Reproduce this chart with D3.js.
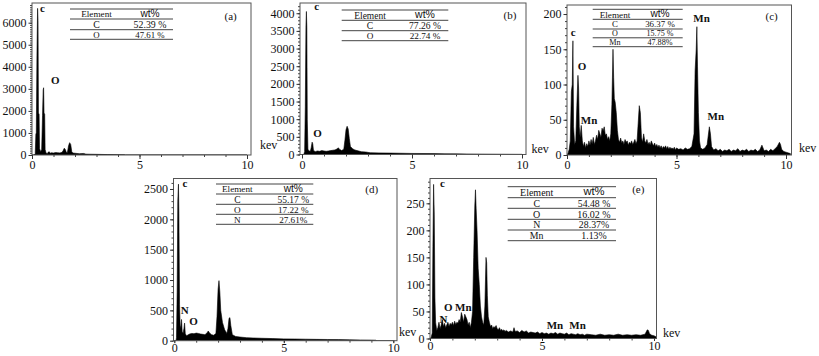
<!DOCTYPE html>
<html><head><meta charset="utf-8">
<script src="https://cdn.jsdelivr.net/npm/d3@7"></script>
<style>
body{margin:0;background:#fff}
svg text{font-family:"Liberation Serif","Times New Roman",Times,serif;fill:#111}
svg text.sans{font-family:"Liberation Sans",Arial,sans-serif}
</style>
</head><body>
<svg id="chart" width="819" height="356"></svg>
<script>
// ---- DATA: [energy keV, counts] ----
const specA = [[0,0],[0.1,0],[0.15,60],[0.18,950],[0.2,1000],[0.23,4500],[0.26,6650],[0.28,6100],[0.3,1900],[0.33,1850],[0.35,300],[0.4,150],[0.45,250],[0.49,1800],[0.52,2950],[0.54,3050],[0.56,1900],[0.59,1850],[0.61,250],[0.65,100],[0.7,60],[0.75,120],[0.8,150],[0.85,80],[0.9,100],[1.0,90],[1.1,110],[1.2,100],[1.3,95],[1.4,120],[1.45,200],[1.5,310],[1.55,250],[1.6,110],[1.65,130],[1.7,420],[1.75,560],[1.8,480],[1.85,150],[1.9,90],[2.0,80],[2.2,60],[2.4,70],[2.5,40],[2.7,35],[3.0,30],[3.5,20],[4.0,15],[4.3,10],[4.35,0],[10,0]];
const specB = [[0,0],[0.08,0],[0.12,80],[0.15,1350],[0.18,3650],[0.2,4050],[0.22,3600],[0.24,1000],[0.27,150],[0.32,100],[0.38,90],[0.42,200],[0.46,350],[0.49,300],[0.52,120],[0.6,80],[0.7,100],[0.8,90],[0.9,110],[1.0,100],[1.1,90],[1.2,100],[1.3,110],[1.4,120],[1.5,130],[1.6,160],[1.65,190],[1.7,150],[1.8,110],[1.9,150],[1.95,400],[2.0,700],[2.05,800],[2.1,720],[2.15,450],[2.2,230],[2.3,160],[2.4,130],[2.5,110],[2.7,80],[2.9,70],[3.1,50],[3.5,45],[4.0,40],[4.5,35],[5.0,30],[5.5,28],[6.0,25],[6.5,20],[7.0,18],[7.5,15],[8.0,12],[8.5,10],[9.0,8],[10,5]];
const specC = [[0,0],[0.05,3],[0.1,8],[0.15,20],[0.2,90],[0.24,100],[0.27,162],[0.3,40],[0.35,15],[0.4,20],[0.45,70],[0.5,113],[0.53,95],[0.56,40],[0.6,25],[0.65,42],[0.7,20],[0.75,12],[0.8,18],[0.85,10],[0.9,16],[0.95,12],[1.0,20],[1.05,14],[1.1,22],[1.15,16],[1.2,25],[1.25,15],[1.3,20],[1.35,28],[1.4,22],[1.45,35],[1.5,30],[1.55,25],[1.6,38],[1.65,34],[1.7,40],[1.75,28],[1.8,30],[1.85,22],[1.9,26],[1.95,20],[2.0,30],[2.05,72],[2.1,150],[2.13,110],[2.16,80],[2.2,75],[2.25,60],[2.3,35],[2.35,22],[2.4,18],[2.45,24],[2.5,17],[2.55,20],[2.6,15],[2.65,22],[2.7,18],[2.75,20],[2.8,14],[2.85,18],[2.9,16],[2.95,20],[3.0,15],[3.05,18],[3.1,22],[3.15,16],[3.2,20],[3.25,45],[3.3,70],[3.35,60],[3.4,25],[3.45,18],[3.5,30],[3.55,20],[3.6,17],[3.65,22],[3.7,15],[3.75,18],[3.8,14],[3.85,20],[3.9,16],[3.95,13],[4.0,17],[4.05,12],[4.1,15],[4.15,11],[4.2,14],[4.25,10],[4.3,13],[4.35,9],[4.4,12],[4.45,10],[4.5,13],[4.55,9],[4.6,12],[4.65,8],[4.7,11],[4.75,9],[4.8,10],[4.85,8],[4.9,11],[4.95,7],[5.0,10],[5.1,8],[5.2,9],[5.3,7],[5.4,10],[5.5,8],[5.6,9],[5.7,12],[5.8,30],[5.85,120],[5.9,150],[5.93,182],[5.96,125],[6.0,60],[6.05,20],[6.1,10],[6.2,8],[6.3,10],[6.4,15],[6.5,40],[6.55,30],[6.6,12],[6.7,7],[6.8,9],[6.9,6],[7.0,8],[7.1,5],[7.2,7],[7.3,6],[7.4,8],[7.5,5],[7.6,7],[7.7,6],[7.8,9],[7.9,5],[8.0,7],[8.1,6],[8.2,8],[8.3,5],[8.4,7],[8.5,6],[8.6,8],[8.7,5],[8.8,7],[8.9,14],[9.0,6],[9.1,7],[9.2,5],[9.3,8],[9.4,6],[9.5,9],[9.6,12],[9.7,18],[9.75,15],[9.8,8],[9.9,5],[10.0,4],[10.2,2]];
const specD = [[0,0],[0.08,0],[0.1,50],[0.13,800],[0.16,2300],[0.19,2580],[0.21,2100],[0.24,600],[0.27,200],[0.3,250],[0.33,350],[0.36,150],[0.4,120],[0.44,200],[0.47,290],[0.5,120],[0.55,80],[0.6,90],[0.7,110],[0.8,120],[0.9,115],[1.0,125],[1.1,120],[1.2,110],[1.3,105],[1.4,100],[1.5,130],[1.55,160],[1.6,130],[1.7,100],[1.8,90],[1.9,120],[1.95,400],[2.0,850],[2.04,990],[2.08,800],[2.12,500],[2.2,300],[2.3,180],[2.4,120],[2.45,200],[2.5,370],[2.54,380],[2.58,250],[2.65,100],[2.8,70],[3.0,60],[3.3,50],[3.6,45],[4.0,40],[4.5,35],[5.0,30],[5.5,28],[6.0,25],[6.5,22],[7.0,20],[7.5,18],[8.0,15],[8.5,12],[9.0,10],[9.2,8],[9.25,0],[10,0]];
const specE = [[0,0],[0.05,2],[0.1,10],[0.13,170],[0.16,285],[0.19,230],[0.22,75],[0.25,30],[0.3,15],[0.35,20],[0.4,30],[0.45,18],[0.5,25],[0.55,35],[0.6,22],[0.65,28],[0.7,20],[0.75,25],[0.8,30],[0.85,22],[0.9,28],[0.95,25],[1.0,30],[1.05,24],[1.1,32],[1.15,26],[1.2,30],[1.25,28],[1.3,35],[1.35,30],[1.4,48],[1.45,40],[1.5,30],[1.55,45],[1.6,40],[1.65,35],[1.7,25],[1.75,30],[1.8,20],[1.85,30],[1.9,50],[1.95,150],[2.0,245],[2.03,275],[2.06,240],[2.1,200],[2.15,130],[2.2,100],[2.25,60],[2.3,40],[2.35,30],[2.4,25],[2.45,60],[2.5,150],[2.53,140],[2.56,80],[2.6,40],[2.65,30],[2.7,22],[2.75,25],[2.8,18],[2.85,22],[2.9,20],[2.95,24],[3.0,18],[3.05,16],[3.1,20],[3.15,15],[3.2,17],[3.25,14],[3.3,16],[3.35,13],[3.4,15],[3.5,12],[3.6,14],[3.7,12],[3.75,20],[3.8,13],[3.9,14],[4.0,11],[4.1,15],[4.2,12],[4.3,14],[4.4,10],[4.5,12],[4.6,11],[4.7,10],[4.8,12],[4.9,9],[5.0,11],[5.1,9],[5.2,10],[5.3,8],[5.4,10],[5.5,9],[5.6,11],[5.7,8],[5.8,10],[5.9,9],[6.0,8],[6.1,10],[6.2,7],[6.3,9],[6.4,8],[6.5,7],[6.6,9],[6.7,7],[6.8,8],[6.9,6],[7.0,8],[7.2,7],[7.4,6],[7.6,8],[7.8,6],[8.0,7],[8.2,6],[8.4,8],[8.6,6],[8.8,7],[9.0,6],[9.2,7],[9.4,6],[9.6,8],[9.65,12],[9.7,16],[9.75,15],[9.8,9],[9.9,6],[10.0,5],[10.1,3]];

const yTicksA = [0,1000,2000,3000,4000,5000,6000];
const yTicksB = [0,500,1000,1500,2000,2500,3000,3500,4000];
const yTicksC = [0,50,100,150,200];
const yTicksD = [0,500,1000,1500,2000,2500];
const yTicksE = [0,50,100,150,200,250];
const xTicks = [0,5,10];

const tableHeader = ["Element","wt%"];
const tableA = [["C","52.39 %"],["O","47.61 %"]];
const tableB = [["C","77.26 %"],["O","22.74 %"]];
const tableC = [["C","36.37 %"],["O","15.75 %"],["Mn","47.88%"]];
const tableD = [["C","55.17 %"],["O","17.22 %"],["N","27.61%"]];
const tableE = [["C","54.48 %"],["O","16.02 %"],["N","28.37%"],["Mn","1.13%"]];

// peak labels: [text, keV, counts]
const peaksA = [["c",0.37,6485],["O",0.88,3220]];
const peaksB = [["c",0.56,4094],["O",0.51,496]];
const peaksC = [["c",0.17,169],["O",0.49,121],["Mn",0.63,44],["Mn",5.77,188],["Mn",6.42,49]];
const peaksD = [["c",0.37,2538],["N",0.29,440],["O",0.68,264]];
const peaksE = [["c",0.45,281],["N",0.42,29],["O",0.63,51],["Mn",1.12,51],["Mn",5.21,17],["Mn",6.22,17]];

const panelNames = ["(a)","(b)","(c)","(d)","(e)"];

// ---- LAYOUT ----
const panels = [
 {name:panelNames[0], spec:specA, yTicks:yTicksA, minor:100, ymax:6893, table:tableA, peaks:peaksA,
  l:32, r:251, t:3, b:155, x0:32, x10:247, xpad:1.5, xsize:4,
  tb:{x1:70,x2:173,lines:[9,19,29.7,39.3],cE:96.5,cW:150}, lab:[230.7,20]},
 {name:panelNames[1], spec:specB, yTicks:yTicksB, minor:100, ymax:4290, table:tableB, peaks:peaksB,
  l:300, r:526, t:3, b:154.5, x0:302, x10:522, xpad:1.5, xsize:4,
  tb:{x1:341.7,x2:448.3,lines:[10,20.3,30.7,40.7],cE:370,cW:425}, lab:[510,18.5]},
 {name:panelNames[2], spec:specC, yTicks:yTicksC, minor:10, ymax:212.8, table:tableC, peaks:peaksC,
  l:567, r:791.5, t:5, b:155, x0:567, x10:786, xpad:1.5, xsize:4,
  tb:{x1:592.7,x2:682.7,lines:[9.3,19.3,29,37.8,46.7],cE:615,cW:660}, lab:[771.7,20]},
 {name:panelNames[3], spec:specD, yTicks:yTicksD, minor:100, ymax:2673, table:tableD, peaks:peaksD,
  l:173.5, r:397, t:178.5, b:340.7, x0:174.3, x10:393.3, xpad:0, xsize:2.5,
  tb:{x1:216,x2:313.3,lines:[184,194,204.3,214.3,224.3],cE:237.3,cW:293.3}, lab:[371.7,193]},
 {name:panelNames[4], spec:specE, yTicks:yTicksE, minor:10, ymax:295.9, table:tableE, peaks:peaksE,
  l:430, r:656.5, t:178.5, b:338.5, x0:430, x10:654, xpad:0.5, xsize:2.5,
  tb:{x1:507.7,x2:616,lines:[186.7,197.7,208.3,219.3,230,240.7],cE:536.7,cW:594}, lab:[638.3,193]}
];
const kevLabels = [[260,149],[531.5,153],[799,152],[399,336],[663,336.5]];

const svg = d3.select("#chart");
const fmt = d3.format("d");

panels.forEach((p,i)=>{
  const x = d3.scaleLinear().domain([0,10]).range([p.x0,p.x10]);
  const y = d3.scaleLinear().domain([0,p.ymax]).range([p.b,p.t]);
  const g = svg.append("g");
  const clipId = "clip"+i;
  g.append("clipPath").attr("id",clipId).append("rect")
    .attr("x",p.l).attr("y",p.t).attr("width",p.r-p.l).attr("height",p.b-p.t);

  const area = d3.area().x(d=>x(d[0])).y0(y(0)).y1(d=>y(d[1])).curve(d3.curveLinear);
  g.append("path").datum(p.spec).attr("d",area)
    .attr("fill","#000").attr("stroke","#000").attr("stroke-width",0.6)
    .attr("clip-path",`url(#${clipId})`);

  g.append("rect").attr("x",p.l).attr("y",p.t).attr("width",p.r-p.l).attr("height",p.b-p.t)
    .attr("fill","none").attr("stroke","#555").attr("stroke-width",1);

  const minorVals = d3.range(0, p.ymax, p.minor);
  const ym = g.append("g").attr("transform",`translate(${p.l},0)`)
    .call(d3.axisLeft(y).tickValues(minorVals).tickSize(2).tickFormat(""));
  ym.select(".domain").remove();
  ym.selectAll("line").attr("stroke","#444");
  const ya = g.append("g").attr("transform",`translate(${p.l},0)`)
    .call(d3.axisLeft(y).tickValues(p.yTicks).tickSize(3.5).tickPadding(2).tickFormat(fmt));
  ya.select(".domain").remove();
  ya.attr("font-family",null);
  ya.selectAll("line").attr("stroke","#333");
  ya.selectAll("text").attr("font-size",12).attr("fill","#111");

  const xm = g.append("g").attr("transform",`translate(0,${p.b})`)
    .call(d3.axisBottom(x).tickValues(d3.range(0,11,1)).tickSize(2).tickFormat(""));
  xm.select(".domain").remove();
  xm.selectAll("line").attr("stroke","#444");
  const xa = g.append("g").attr("transform",`translate(0,${p.b})`)
    .call(d3.axisBottom(x).tickValues(xTicks).tickSize(p.xsize).tickPadding(p.xpad).tickFormat(fmt));
  xa.select(".domain").remove();
  xa.attr("font-family",null);
  xa.selectAll("line").attr("stroke","#333");
  xa.selectAll("text").attr("font-size",12).attr("fill","#111");

  const tb = p.tb;
  tb.lines.forEach(ly=>{
    g.append("line").attr("x1",tb.x1).attr("x2",tb.x2).attr("y1",ly).attr("y2",ly)
      .attr("stroke","#444").attr("stroke-width",1);
  });
  const rows = [tableHeader].concat(p.table);
  rows.forEach((row,k)=>{
    const rh = tb.lines[k+1]-tb.lines[k];
    const fs = Math.min(10, rh*0.92);
    const yb = tb.lines[k+1]-1.8;
    g.append("text").attr("x",tb.cE).attr("y",yb).attr("text-anchor","middle")
      .attr("font-size",fs).text(row[0]);
    const t2 = g.append("text").attr("x",tb.cW).attr("y",yb).attr("text-anchor","middle").text(row[1]);
    if(k===0) t2.attr("class","sans").attr("font-size",Math.min(11.5,rh*1.02)).attr("y",tb.lines[k+1]-2.4);
    else t2.attr("font-size",fs);
  });

  g.append("text").attr("x",p.lab[0]).attr("y",p.lab[1]).attr("text-anchor","middle")
    .attr("font-size",11).text(p.name);

  p.peaks.forEach(pk=>{
    g.append("text").attr("x",x(pk[1])).attr("y",y(pk[2]))
      .attr("font-size",11).attr("font-weight","bold").text(pk[0]);
  });
});

kevLabels.forEach(k=>{
  svg.append("text").attr("x",k[0]).attr("y",k[1]).attr("font-size",12).text("kev");
});
</script>
</body></html>
